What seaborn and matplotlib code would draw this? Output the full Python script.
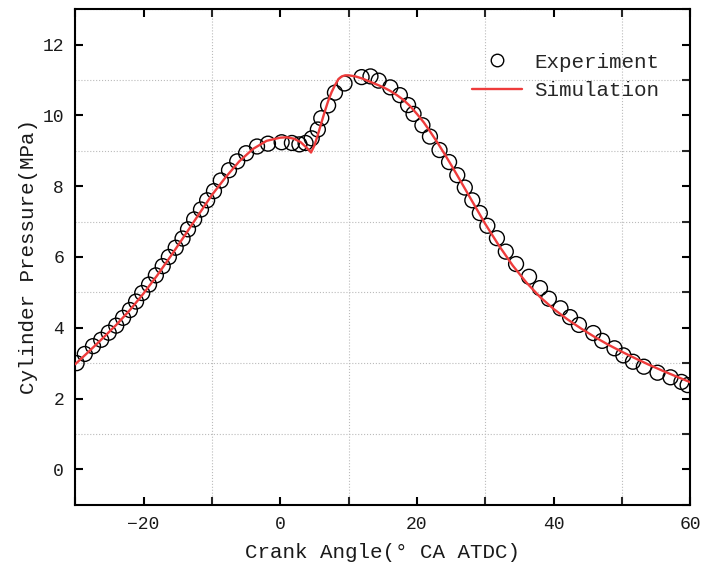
import numpy as np
import pandas as pd
import seaborn as sns
import matplotlib.pyplot as plt
from matplotlib.lines import Line2D
from matplotlib.ticker import MultipleLocator

# experiment (circles)
exp_angle = [
    -29.8, -28.6, -27.4, -26.2, -25.1, -24.0, -23.0, -22.0, -21.1, -20.2,
    -19.2, -18.2, -17.2, -16.3, -15.3, -14.3, -13.5, -12.6, -11.6, -10.7,
    -9.7, -8.7, -7.5, -6.3, -5.0, -3.4, -1.8, 0.2, 1.7, 2.8,
    3.7, 4.6, 5.5, 6.0, 7.0, 8.0, 9.4, 11.9, 13.2, 14.4,
    16.1, 17.5, 18.7, 19.5, 20.8, 21.9, 23.3, 24.7, 25.9, 27.0,
    28.1, 29.2, 30.3, 31.7, 33.0, 34.5, 36.4, 38.0, 39.3, 41.0,
    42.4, 43.7, 45.8, 47.1, 48.9, 50.2, 51.6, 53.2, 55.2, 57.1,
    58.7, 59.6,
]
exp_pressure = [
    3.00, 3.26, 3.48, 3.66, 3.86, 4.06, 4.28, 4.50, 4.74, 4.98,
    5.22, 5.48, 5.74, 6.00, 6.26, 6.52, 6.78, 7.06, 7.34, 7.60,
    7.86, 8.16, 8.45, 8.70, 8.93, 9.12, 9.20, 9.24, 9.22, 9.18,
    9.22, 9.35, 9.60, 9.92, 10.28, 10.64, 10.90, 11.08, 11.10, 10.98,
    10.79, 10.57, 10.29, 10.04, 9.72, 9.40, 9.02, 8.68, 8.31, 7.96,
    7.60, 7.24, 6.88, 6.53, 6.15, 5.80, 5.44, 5.12, 4.82, 4.55,
    4.30, 4.08, 3.85, 3.63, 3.42, 3.22, 3.04, 2.90, 2.73, 2.60,
    2.47, 2.38,
]

# simulation (red line)
sim_angle = [
    -30, -28, -26, -24, -22, -20, -18, -16, -14, -12, -10, -8, -6, -4, -2,
    0, 1, 2, 3, 4, 4.5, 5, 5.5, 6, 6.5, 7, 7.5, 8, 8.5, 9, 9.5, 10,
    11, 12, 13, 14, 15, 16, 17, 18, 19, 20, 21, 22, 23, 24, 25, 26,
    28, 30, 32, 34, 36, 38, 40, 42, 44, 46, 48, 50, 52, 54, 56, 58, 60,
]
sim_pressure = [
    2.97, 3.33, 3.70, 4.08, 4.50, 4.97, 5.48, 6.03, 6.60, 7.18, 7.75, 8.25, 8.70, 9.05, 9.28,
    9.37, 9.38, 9.34, 9.24, 9.06, 8.95, 9.15, 9.45, 9.78, 10.10, 10.40, 10.65, 10.85, 11.02, 11.10, 11.13, 11.13,
    11.10, 11.04, 10.96, 10.88, 10.80, 10.70, 10.58, 10.44, 10.26, 10.04, 9.80, 9.52, 9.23, 8.92, 8.60, 8.27,
    7.60, 6.93, 6.32, 5.76, 5.28, 4.87, 4.53, 4.24, 3.98, 3.74, 3.52, 3.32, 3.13, 2.95, 2.78, 2.62, 2.46,
]

exp_df = pd.DataFrame({'angle': exp_angle, 'pressure': exp_pressure})
sim_df = pd.DataFrame({'angle': sim_angle, 'pressure': sim_pressure})

sns.set_style("ticks")
plt.rcParams['font.family'] = ['Liberation Mono', 'DejaVu Sans']

fig = plt.figure(figsize=(7.03, 5.71), dpi=100)
ax = fig.add_axes([0.107, 0.116, 0.875, 0.868])

red = '#ee3b3b'
txt = '#1a1a1a'

sns.scatterplot(data=exp_df, x='angle', y='pressure', ax=ax, marker='o', s=115,
                facecolor='none', edgecolor='black', linewidth=1.0, zorder=3)
sns.lineplot(data=sim_df, x='angle', y='pressure', ax=ax, color=red,
             linewidth=1.7, sort=False, zorder=4)

ax.set_xlim(-30, 60)
ax.set_ylim(-1, 13)
ax.xaxis.set_major_locator(MultipleLocator(20))
ax.xaxis.set_minor_locator(MultipleLocator(10))
ax.yaxis.set_major_locator(MultipleLocator(2))
ax.yaxis.set_minor_locator(MultipleLocator(1))

ax.grid(which='minor', linestyle=':', color='#bbbbbb', linewidth=0.8)
ax.grid(which='major', visible=False)
ax.set_axisbelow(True)

for sp in ax.spines.values():
    sp.set_visible(True)
    sp.set_linewidth(1.5)
    sp.set_color('black')

ax.tick_params(which='major', direction='in', length=6, width=1.5,
               top=True, right=True, labelsize=13, colors='black', labelcolor=txt)
ax.tick_params(axis='y', which='major', pad=8)
ax.tick_params(axis='x', which='major', pad=8)
ax.tick_params(which='minor', direction='in', length=6, width=1.5,
               top=True, right=True, left=False, bottom=True)

ax.set_xlabel('Crank Angle(° CA ATDC)', fontsize=15, color=txt, labelpad=7)
ax.set_ylabel('Cylinder Pressure(MPa)', fontsize=15, color=txt, labelpad=3)

handles = [
    Line2D([], [], marker='o', linestyle='none', markerfacecolor='none',
           markeredgecolor='black', markersize=9, markeredgewidth=1.0),
    Line2D([], [], color=red, linewidth=1.7),
]
ax.legend(handles, ['Experiment', 'Simulation'], loc='upper right',
          bbox_to_anchor=(0.98, 0.95), frameon=False, fontsize=15,
          handlelength=2.4, handletextpad=0.6, labelspacing=0.45)

plt.savefig('out.png', dpi=100)
